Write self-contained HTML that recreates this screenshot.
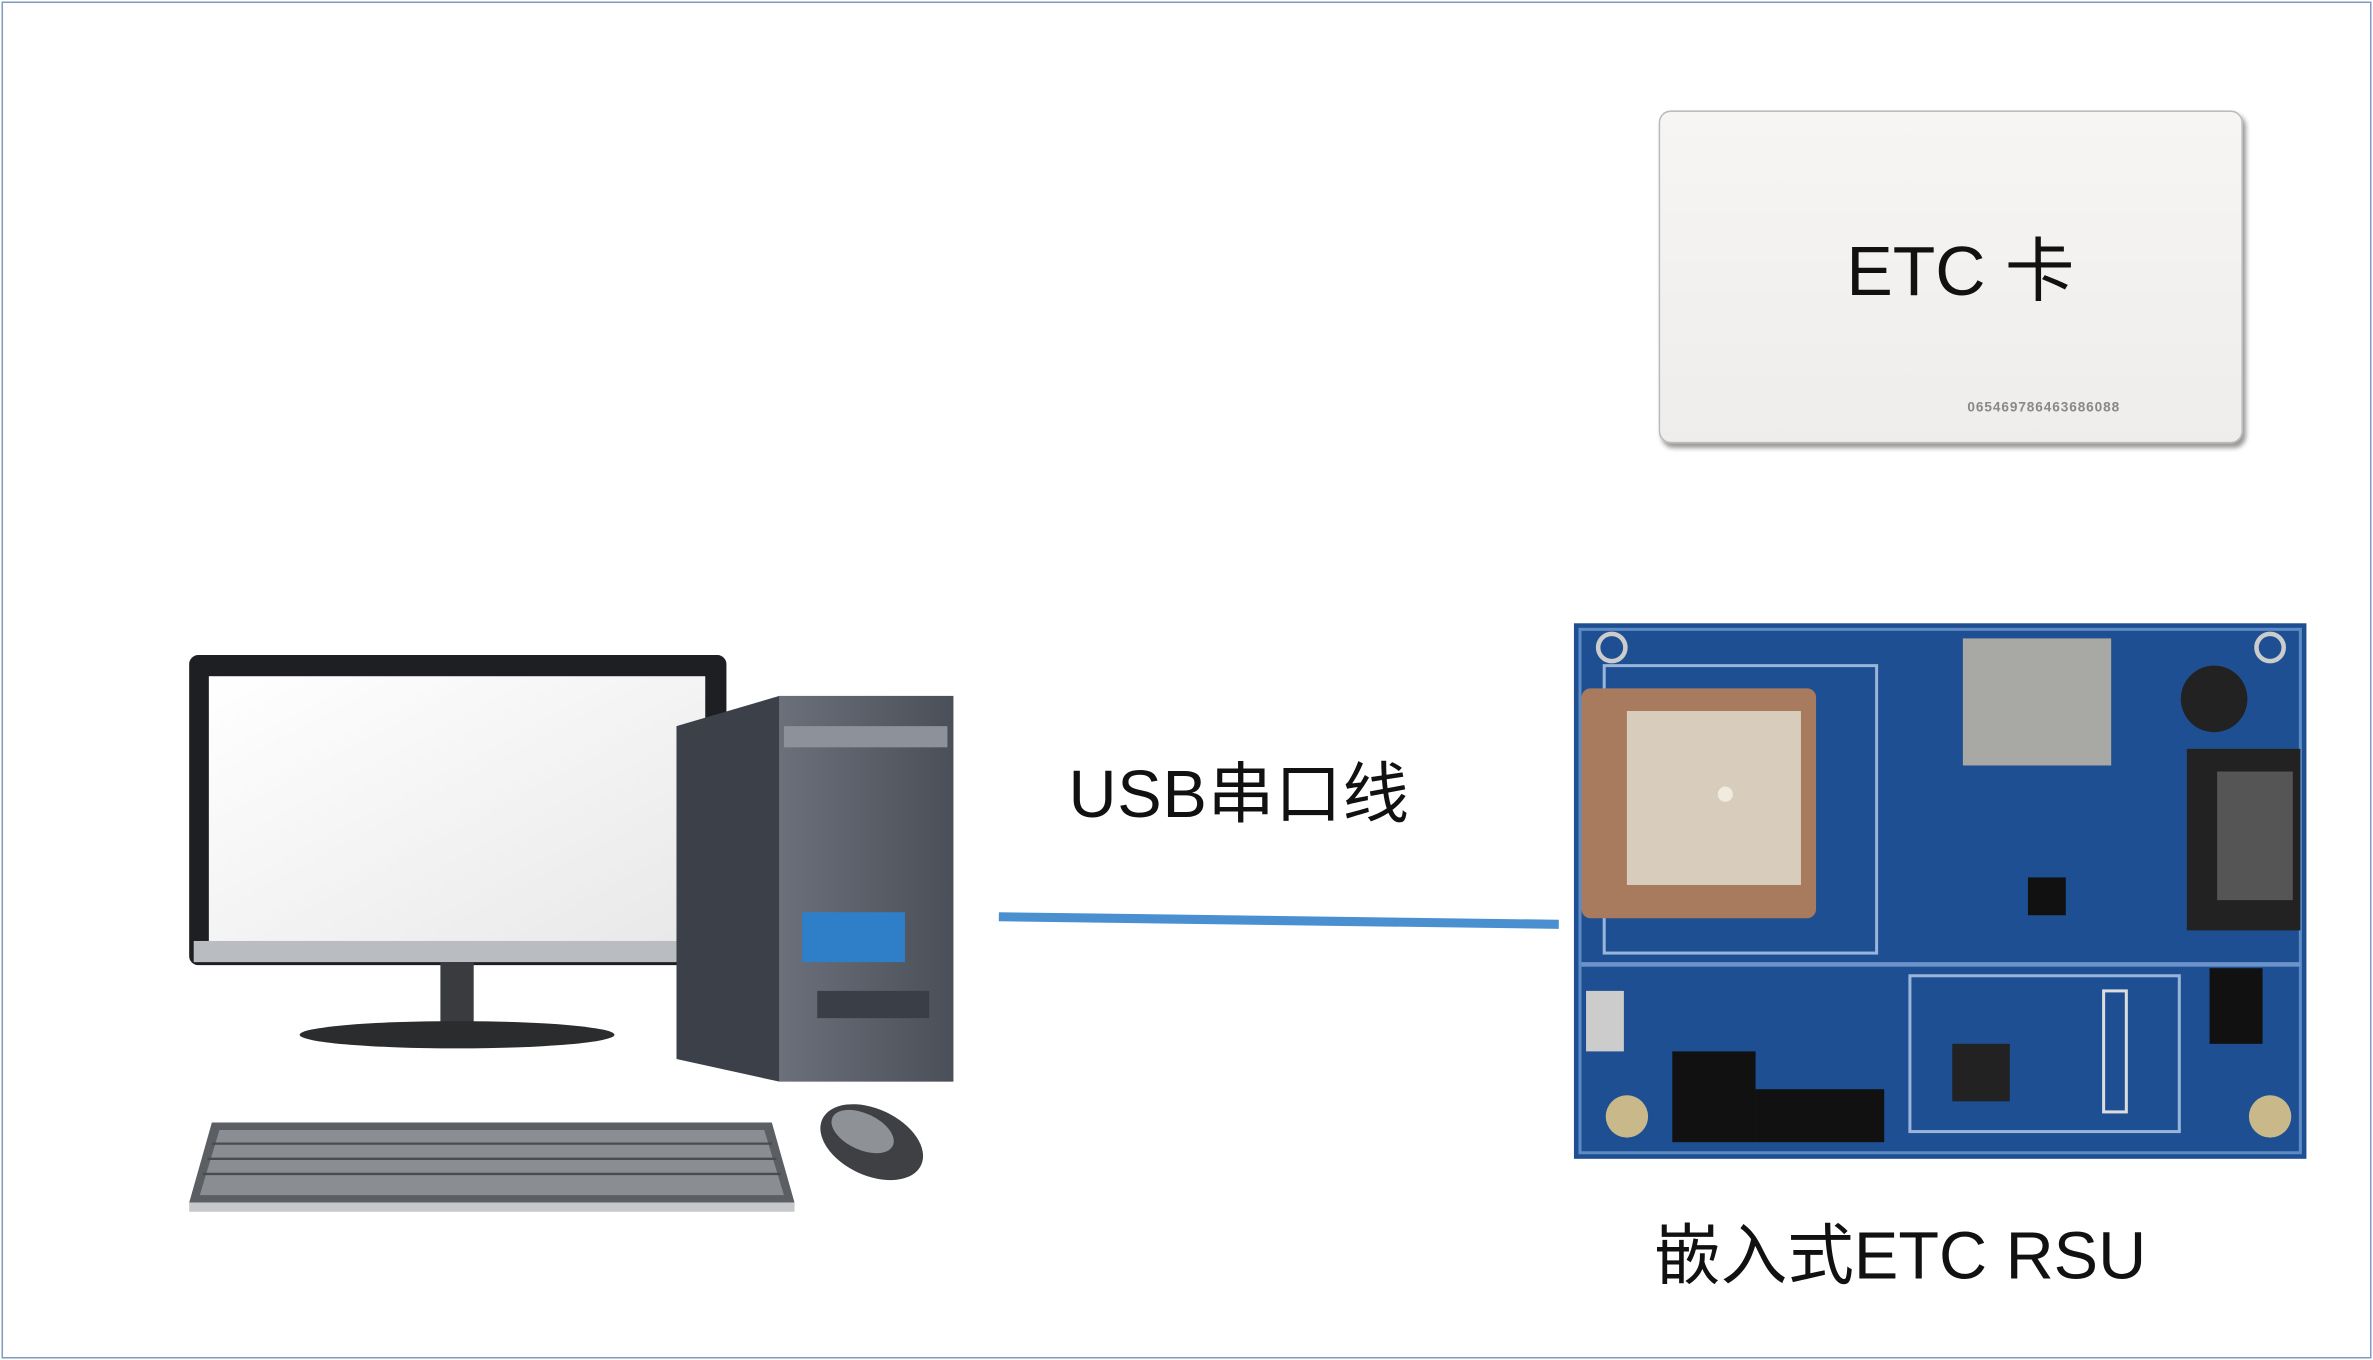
<!DOCTYPE html>
<html><head><meta charset="utf-8"><style>
html,body{margin:0;padding:0;background:#fff;}
body{width:2373px;height:1360px;overflow:hidden;}
#s{position:absolute;left:0;top:0;width:1568px;height:899px;transform:scale(1.5134,1.5128);transform-origin:0 0;}
.a{position:absolute;}
.t{font-family:"Liberation Sans","Noto Sans CJK SC",sans-serif;color:#111;white-space:nowrap;}
</style></head><body><div id="s">
<div class="a" style="left:1px;top:1px;width:1564px;height:895px;border:1px solid #7f9cc0;"></div>

<!-- ETC card -->
<div class="a" style="left:1096px;top:73px;width:384px;height:218px;border:1px solid #bbb;border-radius:8px;background:linear-gradient(#f6f5f4,#efedeb);box-shadow:2px 3px 3px #999;"></div>
<div class="a t" style="left:1220px;top:143px;font-size:46px;">ETC 卡</div>
<div class="a t" style="left:1300px;top:264px;font-size:9px;color:#888;font-weight:bold;letter-spacing:0.6px;">065469786463686088</div>

<!-- line -->
<svg class="a" style="left:0;top:0" width="1568" height="899"><line x1="660" y1="606" x2="1030" y2="611" stroke="#4a8fd0" stroke-width="6"/></svg>
<div class="a t" style="left:706px;top:489px;font-size:44px;letter-spacing:0.5px;">USB串口线</div>

<!-- computer -->
<svg class="a" style="left:0;top:0" width="1568" height="899">
<defs><linearGradient id="sc" x1="0" y1="0" x2="1" y2="1"><stop offset="0" stop-color="#fff"/><stop offset="1" stop-color="#e8e8e8"/></linearGradient>
<linearGradient id="tw" x1="0" x2="1"><stop offset="0" stop-color="#6b707a"/><stop offset="1" stop-color="#4a4f58"/></linearGradient></defs>
<rect x="125" y="433" width="355" height="205" rx="6" fill="#1e1f22"/>
<rect x="138" y="447" width="328" height="176" fill="url(#sc)"/>
<rect x="128" y="622" width="350" height="14" fill="#b9bcc0"/>
<rect x="291" y="636" width="22" height="42" fill="#3a3b3e"/>
<ellipse cx="302" cy="684" rx="104" ry="9" fill="#2b2c2e"/>
<polygon points="447,480 515,460 515,715 447,700" fill="#3c4048"/>
<rect x="515" y="460" width="115" height="255" fill="url(#tw)"/>
<rect x="518" y="480" width="108" height="14" fill="#8d929a"/>
<rect x="530" y="603" width="68" height="33" fill="#2f7fc8"/>
<rect x="540" y="655" width="74" height="18" fill="#3a3e46"/>
<polygon points="140,742 510,742 525,795 125,795" fill="#5b5e63"/>
<polygon points="145,747 505,747 518,790 132,790" fill="#8a8d92"/>
<g stroke="#4a4c50" stroke-width="1.5">
<line x1="140" y1="756" x2="510" y2="756"/><line x1="137" y1="766" x2="513" y2="766"/><line x1="134" y1="776" x2="516" y2="776"/></g>
<rect x="125" y="795" width="400" height="6" fill="#c6c8cb"/>
<ellipse cx="576" cy="755" rx="36" ry="22" fill="#3e4044" transform="rotate(25 576 755)"/>
<ellipse cx="570" cy="748" rx="22" ry="12" fill="#8e9196" transform="rotate(25 570 748)"/>
</svg>

<!-- PCB -->
<svg class="a" style="left:0;top:0" width="1568" height="899">
<rect x="1040" y="412" width="484" height="354" fill="#1d4f92"/>
<rect x="1044" y="416" width="476" height="346" fill="none" stroke="#5f8bc4" stroke-width="2"/>
<rect x="1060" y="440" width="180" height="190" fill="none" stroke="#9ab5da" stroke-width="2"/>
<rect x="1045" y="455" width="155" height="152" rx="6" fill="#a87b5e"/>
<rect x="1075" y="470" width="115" height="115" fill="#d8cdbc"/>
<circle cx="1140" cy="525" r="5" fill="#f0eadf"/>
<rect x="1297" y="422" width="98" height="84" fill="#a8a8a4"/>
<rect x="1445" y="495" width="75" height="120" fill="#222"/>
<rect x="1465" y="510" width="50" height="85" fill="#555"/>
<circle cx="1463" cy="462" r="22" fill="#222"/>
<rect x="1045" y="636" width="475" height="3" fill="#6d94c9"/>
<rect x="1262" y="645" width="178" height="103" fill="none" stroke="#9ab5da" stroke-width="2"/>
<rect x="1290" y="690" width="38" height="38" fill="#222"/>
<rect x="1390" y="655" width="15" height="80" fill="none" stroke="#ddd" stroke-width="2"/>
<rect x="1105" y="695" width="55" height="60" fill="#111"/>
<rect x="1160" y="720" width="85" height="35" fill="#111"/>
<rect x="1340" y="580" width="25" height="25" fill="#111"/>
<rect x="1460" y="640" width="35" height="50" fill="#111"/>
<rect x="1048" y="655" width="25" height="40" fill="#ccc"/>
<circle cx="1075" cy="738" r="14" fill="#c9b98a"/>
<circle cx="1500" cy="738" r="14" fill="#c9b98a"/>
<circle cx="1065" cy="428" r="9" fill="none" stroke="#ccc" stroke-width="3"/>
<circle cx="1500" cy="428" r="9" fill="none" stroke="#ccc" stroke-width="3"/>
</svg>
<div class="a t" style="left:1093px;top:794px;font-size:44px;">嵌入式ETC RSU</div>
</div></body></html>
